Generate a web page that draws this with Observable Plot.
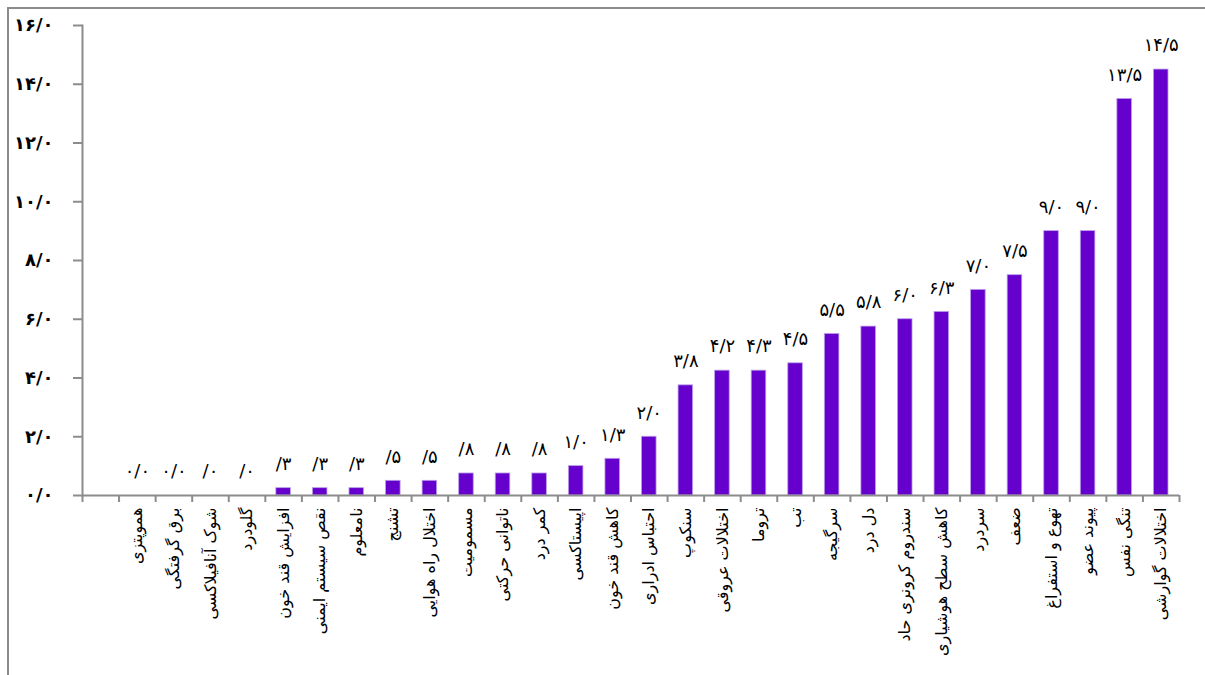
<!DOCTYPE html>
<html><head><meta charset="utf-8">
<script src="https://cdn.jsdelivr.net/npm/d3@7"></script>
<script src="https://cdn.jsdelivr.net/npm/@observablehq/plot@0.6"></script>
<style>
body{margin:0;background:#fff;}
#wrap{position:relative;width:1205px;height:675px;overflow:hidden;}
#chart{position:absolute;left:0;top:0;}
#border{position:absolute;left:7px;top:7px;width:1230px;height:720px;border:2px solid #8c8c8c;box-sizing:border-box;pointer-events:none;}
</style></head><body><div id="wrap"><div id="chart"></div><div id="border"></div></div>
<script>
const categories = ["", "هموپتزی", "برق گرفتگی", "شوک آنافیلاکسی", "گلودرد", "افزایش قند خون", "نقص سیستم ایمنی", "نامعلوم", "تشنج", "اختلال راه هوایی", "مسمومیت", "ناتوانی حرکتی", "کمر درد", "اپیستاکسی", "کاهش قند خون", "احتباس ادراری", "سنکوپ", "اختلالات عروقی", "تروما", "تب", "سرگیجه", "دل درد", "سندروم کرونری حاد", "کاهش سطح هوشیاری", "سردرد", "ضعف", "تهوع و استفراغ", "پیوند عضو", "تنگی نفس", "اختلالات گوارشی"];
const values = [null, 0, 0, 0, 0, 0.25, 0.25, 0.25, 0.5, 0.5, 0.75, 0.75, 0.75, 1.0, 1.25, 2.0, 3.75, 4.25, 4.25, 4.5, 5.5, 5.75, 6.0, 6.25, 7.0, 7.5, 9.0, 9.0, 13.5, 14.5];
const valueLabels = ["", "۰/۰", "۰/۰", "/۰", "/۰", "/۳", "/۳", "/۳", "/۵", "/۵", "/۸", "/۸", "/۸", "۱/۰", "۱/۳", "۲/۰", "۳/۸", "۴/۲", "۴/۳", "۴/۵", "۵/۵", "۵/۸", "۶/۰", "۶/۳", "۷/۰", "۷/۵", "۹/۰", "۹/۰", "۱۳/۵", "۱۴/۵"];
const yTicks = [0, 2, 4, 6, 8, 10, 12, 14, 16];
const yTickLabels = ["۰/۰", "۲/۰", "۴/۰", "۶/۰", "۸/۰", "۱۰/۰", "۱۲/۰", "۱۴/۰", "۱۶/۰"];

const data = categories.map((c, i) => ({cat: c, value: values[i], label: valueLabels[i]}));
const x0 = 82, x1 = 1179;
const bw = (x1 - x0) / categories.length;
const axisGray = "#8c8c8c";

const chart = Plot.plot({
  width: 1205,
  height: 675,
  marginLeft: 82,
  marginRight: 26,
  marginTop: 25,
  marginBottom: 180,
  style: {fontFamily: "DejaVu Sans", background: "transparent", color: "black"},
  x: {type: "band", domain: categories, range: [x0, x1], padding: 0, round: false, label: null},
  y: {domain: [0, 16], range: [495, 25], label: null},
  marks: [
    Plot.barY(data.filter(d => d.value > 0), {x: "cat", y: "value", fill: "#6600cc", stroke: "#b9a0ec", strokeWidth: 0.8, insetLeft: 11, insetRight: 11}),
    Plot.text(data.filter(d => d.value != null), {x: "cat", y: "value", text: "label", dy: -24, fontSize: 18, fill: "black"}),
    Plot.ruleY([0], {stroke: axisGray, strokeWidth: 2}),
    Plot.frame({anchor: "left", stroke: axisGray, strokeWidth: 2}),
    Plot.axisY(yTicks, {label: null, tickSize: 9, tickPadding: 20, fontSize: 18, fontWeight: "bold", stroke: axisGray, strokeWidth: 2, tickFormat: d => yTickLabels[yTicks.indexOf(d)]}),
    Plot.axisX({label: null, tickSize: 7, tickFormat: () => "", dx: -bw / 2, stroke: axisGray, strokeWidth: 2}),
    Plot.axisX([categories[categories.length - 1]], {label: null, tickSize: 7, tickFormat: () => "", dx: bw / 2, stroke: axisGray, strokeWidth: 2}),
    Plot.axisX({label: null, tickSize: 0, tickRotate: -90, tickPadding: 12, fontSize: 16, tickFormat: d => d})
  ]
});
document.getElementById("chart").appendChild(chart);
</script>
</body></html>
